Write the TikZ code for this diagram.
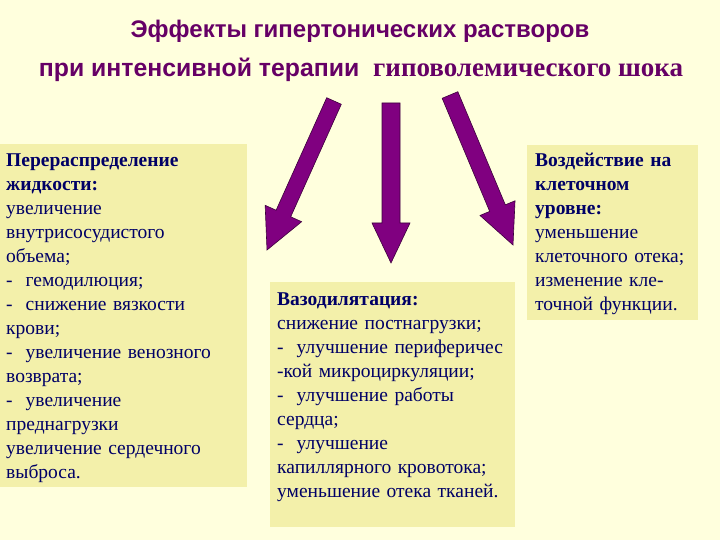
\documentclass[tikz,border=0pt]{standalone}
\usepackage{fontspec}
\setmainfont{Liberation Serif}
\newfontfamily\titlesans{Liberation Sans}
\usetikzlibrary{calc}
\definecolor{bg}{RGB}{255,255,221}
\definecolor{boxfill}{RGB}{243,240,170}
\definecolor{titlecol}{RGB}{102,0,102}
\definecolor{textcol}{RGB}{0,0,102}
\definecolor{arrowfill}{RGB}{128,0,128}
\definecolor{arrowline}{RGB}{60,0,60}
\tikzset{
  panel/.style={fill=boxfill, draw=none, anchor=north west, inner sep=0pt},
  bodytext/.style={anchor=base west, inner sep=0pt, text width=#1, align=left, text=textcol,
    font=\fontsize{19.5}{24}\selectfont},
  blockarrow/.style={fill=arrowfill, draw=arrowline, line width=0.6pt, line join=miter},
  titletext/.style={text=titlecol, inner sep=0pt, anchor=base, font=\bfseries}
}
\newcommand\bigarrow[5]{%
  \coordinate (h) at ($(#2)!#5!(#1)$);
  \draw[blockarrow] ($(#1)!#3!90:(#2)$) -- ($(h)!#3!-90:(#1)$) -- ($(h)!#4!-90:(#1)$) -- (#2)
    -- ($(h)!#4!90:(#1)$) -- ($(h)!#3!90:(#1)$) -- ($(#1)!#3!-90:(#2)$) -- cycle;}
\begin{document}
\begin{tikzpicture}[x=1pt,y=-1pt]
\fill[bg] (0,0) rectangle (720,540);
\useasboundingbox (0,0) rectangle (720,540);

% title
\node[titletext] (t1) at (360,38) {\fontsize{24}{28}\selectfont\titlesans Эффекты гипертонических растворов};
\node[titletext] (t2) at (361,77) {{\fontsize{24.8}{28}\selectfont\titlesans при интенсивной терапии}\hspace{14pt}{\fontsize{27}{28}\selectfont гиповолемического шока}};

% panels
\node[panel, minimum width=247pt, minimum height=343pt] (leftbox) at (0,144) {};
\node[panel, minimum width=245pt, minimum height=245pt] (midbox) at (270,282) {};
\node[panel, minimum width=171pt, minimum height=175pt] (rightbox) at (527,145) {};

% arrows
\coordinate (lt) at (334,101); \coordinate (lp) at (267,250);
\coordinate (mt) at (391,103); \coordinate (mp) at (391,263);
\coordinate (rt) at (450,95);  \coordinate (rp) at (513,245);
\bigarrow{lt}{lp}{8pt}{20pt}{40pt}
\bigarrow{mt}{mp}{9pt}{19pt}{40pt}
\bigarrow{rt}{rp}{8.5pt}{19pt}{40pt}

% texts
\node[bodytext=240pt] (lefttext) at (6,167) {\textbf{Перераспределение}\\
\textbf{жидкости:}\\
увеличение\\
внутрисосудистого\\
объема;\\
-\ \ гемодилюция;\\
-\ \ снижение вязкости\\
крови;\\
-\ \ увеличение венозного\\
возврата;\\
-\ \ увеличение\\
преднагрузки\\
увеличение сердечного\\
выброса.};

\node[bodytext=240pt] (midtext) at (277,305) {\textbf{Вазодилятация:}\\
снижение постнагрузки;\\
-\ \ улучшение периферичес\\
-кой микроциркуляции;\\
-\ \ улучшение работы\\
сердца;\\
-\ \ улучшение\\
капиллярного кровотока;\\
уменьшение отека тканей.};

\node[bodytext=170pt] (righttext) at (535,167) {\textbf{Воздействие на}\\
\textbf{клеточном}\\
\textbf{уровне:}\\
уменьшение\\
клеточного отека;\\
изменение кле-\\
точной функции.};
\end{tikzpicture}
\end{document}
